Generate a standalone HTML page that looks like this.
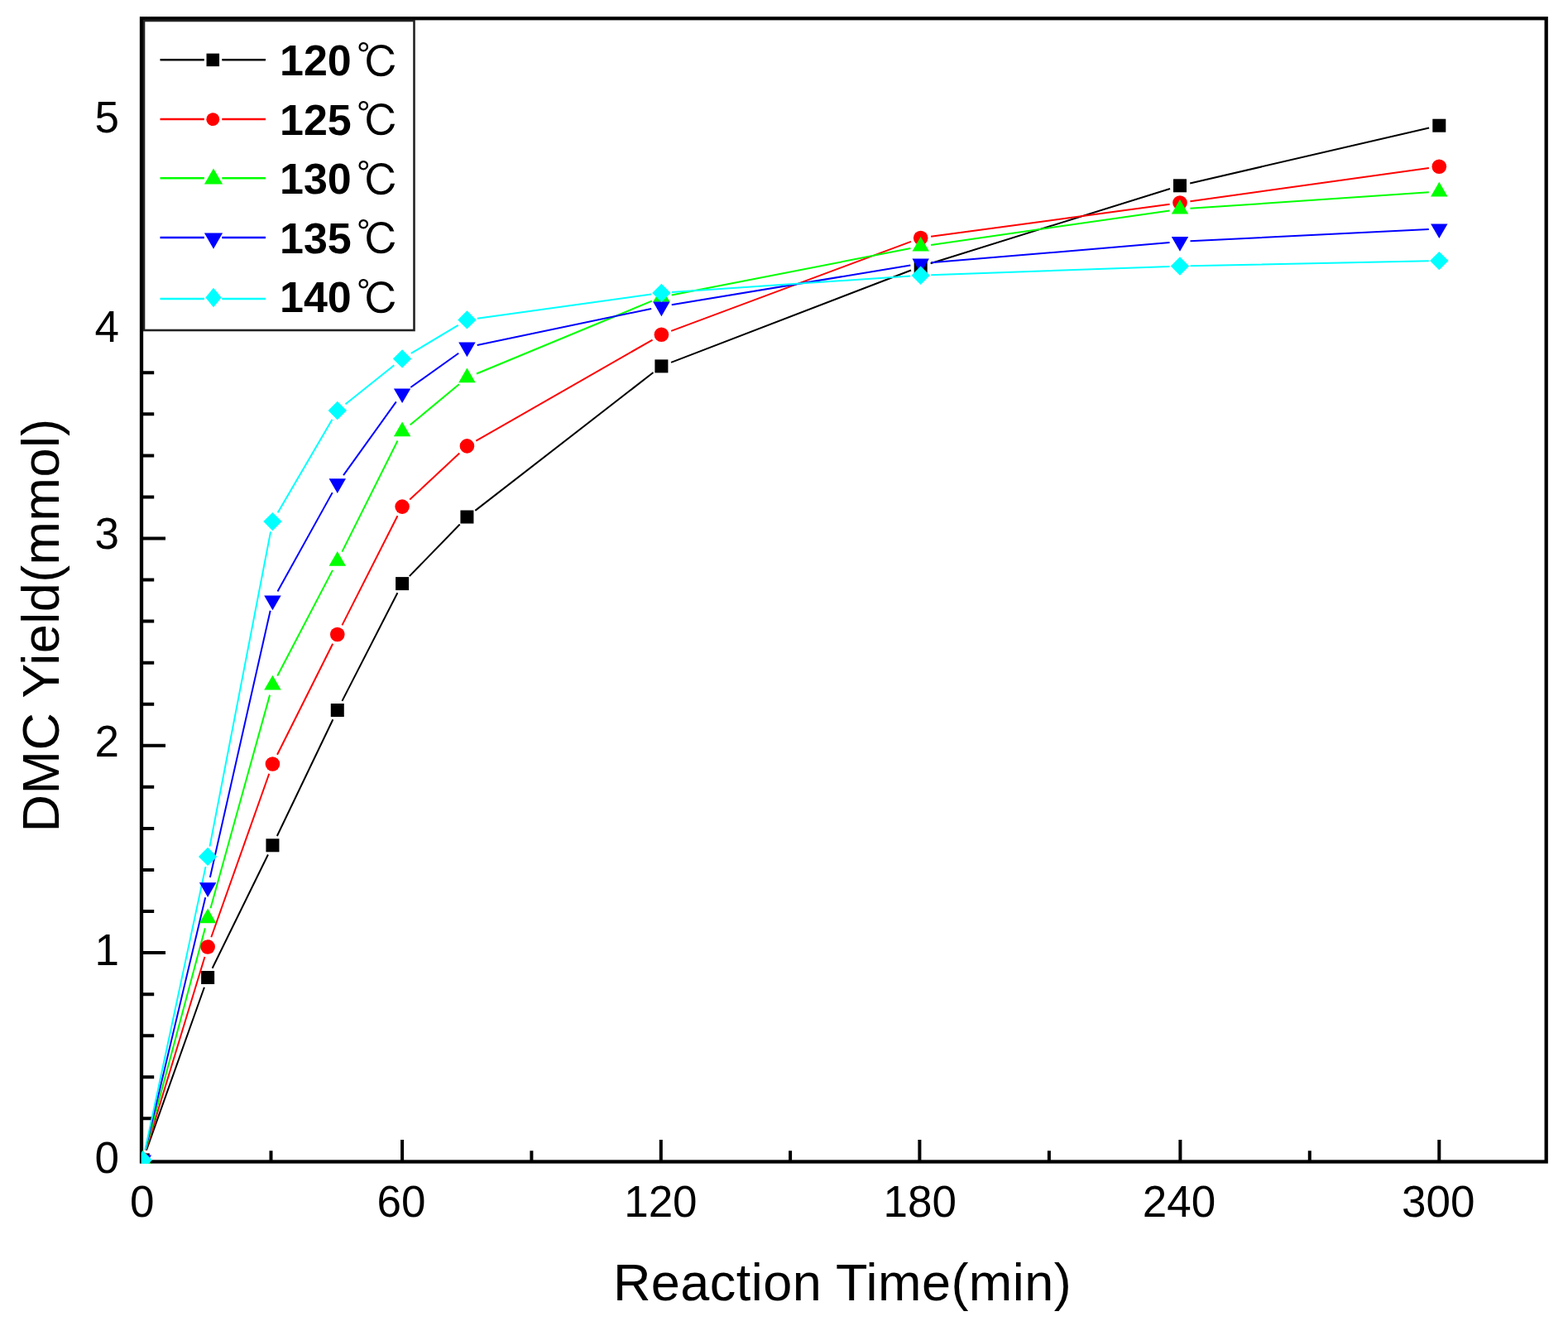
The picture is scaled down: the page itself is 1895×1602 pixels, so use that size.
<!DOCTYPE html>
<html><head><meta charset="utf-8"><title>DMC Yield vs Reaction Time</title>
<style>
html,body{margin:0;padding:0;background:#fff;}
body{width:1895px;height:1602px;overflow:hidden;}
svg{display:block;}
text{font-family:"Liberation Sans",Arial,sans-serif;fill:#000;}
.tl text{font-size:53px;}
.ttl{font-size:63px;letter-spacing:0.45px;}
.lg{font-size:52px;font-weight:bold;}
.deg{font-family:"Liberation Sans","IPAGothic",sans-serif;font-weight:normal;font-size:52px;}
</style></head><body>
<svg width="1895" height="1602" viewBox="0 0 1895 1602">
<defs><clipPath id="pc"><rect x="170.8" y="0" width="1700" height="1406"/></clipPath></defs>
<rect width="1895" height="1602" fill="#fff"/>
<g>
<rect x="171.0" y="22.25" width="1697.7" height="1381.25" fill="none" stroke="#000" stroke-width="4.3"/><path d="M327.50 1403.5V1390.3M486.10 1403.5V1377M642.40 1403.5V1390.3M798.80 1403.5V1377M955.10 1403.5V1390.3M1111.40 1403.5V1377M1267.90 1403.5V1390.3M1426.40 1403.5V1377M1582.80 1403.5V1390.3M1739.30 1403.5V1377M171.0 1351.34H186.2M171.0 1301.28H186.2M171.0 1251.22H186.2M171.0 1201.16H186.2M171.0 1151.10H200M171.0 1101.04H186.2M171.0 1050.98H186.2M171.0 1000.92H186.2M171.0 950.86H186.2M171.0 900.80H200M171.0 850.74H186.2M171.0 800.68H186.2M171.0 750.62H186.2M171.0 700.56H186.2M171.0 650.50H200M171.0 600.44H186.2M171.0 550.38H186.2M171.0 500.32H186.2M171.0 450.26H186.2" stroke="#000" stroke-width="4" fill="none"/>
<g clip-path="url(#pc)"><path d="M176.99 1389.62L246.94 1192.78M256.63 1169.78L323.95 1032.52M334.86 1010.03L402.37 869.27M413.48 846.87L480.40 716.23M494.81 696.14L555.72 633.46M574.31 616.84L789.52 450.06M811.07 437.92L1101.04 326.48M1124.64 318.28L1414.07 228.02M1438.19 221.48L1727.13 154.52" stroke="#000000" stroke-width="2" fill="none"/><path d="M176.44 1389.44L247.49 1155.96M255.30 1132.22L325.28 934.78M335.05 911.82L402.18 777.68M413.43 755.35L480.45 623.25M495.23 603.57L555.29 547.43M575.27 532.69L788.56 410.51M811.12 399.93L1100.99 291.87M1125.09 285.82L1413.62 246.68M1438.39 243.27L1726.93 202.93" stroke="#ff0000" stroke-width="2" fill="none"/><path d="M176.04 1389.33L247.89 1121.37M254.47 1097.26L326.10 839.64M335.24 816.52L401.98 688.88M413.37 666.62L480.51 532.48M495.72 513.32L554.81 464.28M575.97 451.51L787.86 363.69M811.67 356.50L1100.44 300.10M1125.08 295.92L1413.63 254.48M1438.48 251.86L1726.84 232.34" stroke="#00ff00" stroke-width="2" fill="none"/><path d="M175.69 1389.24L248.23 1084.26M253.88 1059.91L326.70 737.69M335.51 714.57L401.72 595.13M415.08 574.05L478.80 485.45M496.28 468.05L554.25 426.75M576.66 416.94L787.17 372.96M811.74 368.35L1100.37 320.45M1125.16 317.35L1413.55 293.05M1438.49 291.37L1726.83 276.93" stroke="#0000ff" stroke-width="2" fill="none"/><path d="M175.41 1389.18L248.51 1047.12M253.50 1022.63L327.08 642.37M335.76 619.31L401.47 506.79M417.54 488.20L476.34 441.20M496.82 426.97L553.71 392.83M576.81 384.69L787.02 355.61M811.88 353.06L1100.23 333.54M1125.20 332.25L1413.52 321.95M1438.51 321.24L1726.81 315.36" stroke="#00ffff" stroke-width="2" fill="none"/><rect x="164.80" y="1393.40" width="16.00" height="16.00" fill="#000000"/><rect x="243.13" y="1173.00" width="16.00" height="16.00" fill="#000000"/><rect x="321.45" y="1013.30" width="16.00" height="16.00" fill="#000000"/><rect x="399.78" y="850.00" width="16.00" height="16.00" fill="#000000"/><rect x="478.10" y="697.10" width="16.00" height="16.00" fill="#000000"/><rect x="556.43" y="616.50" width="16.00" height="16.00" fill="#000000"/><rect x="791.40" y="434.40" width="16.00" height="16.00" fill="#000000"/><rect x="1104.71" y="314.00" width="16.00" height="16.00" fill="#000000"/><rect x="1418.01" y="216.30" width="16.00" height="16.00" fill="#000000"/><rect x="1731.31" y="143.70" width="16.00" height="16.00" fill="#000000"/><circle cx="172.80" cy="1401.40" r="8.80" fill="#ff0000"/><circle cx="251.13" cy="1144.00" r="8.80" fill="#ff0000"/><circle cx="329.45" cy="923.00" r="8.80" fill="#ff0000"/><circle cx="407.78" cy="766.50" r="8.80" fill="#ff0000"/><circle cx="486.10" cy="612.10" r="8.80" fill="#ff0000"/><circle cx="564.43" cy="538.90" r="8.80" fill="#ff0000"/><circle cx="799.40" cy="404.30" r="8.80" fill="#ff0000"/><circle cx="1112.71" cy="287.50" r="8.80" fill="#ff0000"/><circle cx="1426.01" cy="245.00" r="8.80" fill="#ff0000"/><circle cx="1739.31" cy="201.20" r="8.80" fill="#ff0000"/><polygon points="172.80,1389.60 183.02,1407.30 162.58,1407.30" fill="#00ff00"/><polygon points="251.13,1097.50 261.34,1115.20 240.91,1115.20" fill="#00ff00"/><polygon points="329.45,815.80 339.67,833.50 319.23,833.50" fill="#00ff00"/><polygon points="407.78,666.00 418.00,683.70 397.56,683.70" fill="#00ff00"/><polygon points="486.10,509.50 496.32,527.20 475.88,527.20" fill="#00ff00"/><polygon points="564.43,444.50 574.65,462.20 554.21,462.20" fill="#00ff00"/><polygon points="799.40,347.10 809.62,364.80 789.18,364.80" fill="#00ff00"/><polygon points="1112.71,285.90 1122.93,303.60 1102.49,303.60" fill="#00ff00"/><polygon points="1426.01,240.90 1436.23,258.60 1415.79,258.60" fill="#00ff00"/><polygon points="1739.31,219.70 1749.53,237.40 1729.09,237.40" fill="#00ff00"/><polygon points="162.58,1395.50 183.02,1395.50 172.80,1413.20" fill="#0000ff"/><polygon points="240.91,1066.20 261.34,1066.20 251.13,1083.90" fill="#0000ff"/><polygon points="319.23,719.60 339.67,719.60 329.45,737.30" fill="#0000ff"/><polygon points="397.56,578.30 418.00,578.30 407.78,596.00" fill="#0000ff"/><polygon points="475.88,469.40 496.32,469.40 486.10,487.10" fill="#0000ff"/><polygon points="554.21,413.60 574.65,413.60 564.43,431.30" fill="#0000ff"/><polygon points="789.18,364.50 809.62,364.50 799.40,382.20" fill="#0000ff"/><polygon points="1102.49,312.50 1122.93,312.50 1112.71,330.20" fill="#0000ff"/><polygon points="1415.79,286.10 1436.23,286.10 1426.01,303.80" fill="#0000ff"/><polygon points="1729.09,270.40 1749.53,270.40 1739.31,288.10" fill="#0000ff"/><polygon points="172.80,1390.20 184.00,1401.40 172.80,1412.60 161.60,1401.40" fill="#00ffff"/><polygon points="251.13,1023.70 262.33,1034.90 251.13,1046.10 239.93,1034.90" fill="#00ffff"/><polygon points="329.45,618.90 340.65,630.10 329.45,641.30 318.25,630.10" fill="#00ffff"/><polygon points="407.78,484.80 418.98,496.00 407.78,507.20 396.58,496.00" fill="#00ffff"/><polygon points="486.10,422.20 497.30,433.40 486.10,444.60 474.90,433.40" fill="#00ffff"/><polygon points="564.43,375.20 575.63,386.40 564.43,397.60 553.23,386.40" fill="#00ffff"/><polygon points="799.40,342.70 810.60,353.90 799.40,365.10 788.20,353.90" fill="#00ffff"/><polygon points="1112.71,321.50 1123.91,332.70 1112.71,343.90 1101.51,332.70" fill="#00ffff"/><polygon points="1426.01,310.30 1437.21,321.50 1426.01,332.70 1414.81,321.50" fill="#00ffff"/><polygon points="1739.31,303.90 1750.51,315.10 1739.31,326.30 1728.11,315.10" fill="#00ffff"/></g>
<rect x="174" y="25" width="326.5" height="374" fill="#fff" stroke="#222" stroke-width="2.6"/><path d="M193.5 72.2H246.8M268.3 72.2H321" stroke="#000000" stroke-width="2.4" fill="none"/><rect x="249.54" y="64.64" width="15.52" height="15.52" fill="#000000"/><text x="338" y="91.4" class="lg">120<tspan class="deg" dx="6" dy="2.5">℃</tspan></text><path d="M193.5 144.0H246.8M268.3 144.0H321" stroke="#ff0000" stroke-width="2.4" fill="none"/><circle cx="257.30" cy="144.20" r="7.92" fill="#ff0000"/><text x="338" y="162.9" class="lg">125<tspan class="deg" dx="6" dy="2.5">℃</tspan></text><path d="M193.5 215.3H246.8M268.3 215.3H321" stroke="#00ff00" stroke-width="2.4" fill="none"/><polygon points="258.00,203.40 269.09,222.60 246.91,222.60" fill="#00ff00"/><text x="338" y="234.4" class="lg">130<tspan class="deg" dx="6" dy="2.5">℃</tspan></text><path d="M193.5 287.0H246.8M268.3 287.0H321" stroke="#0000ff" stroke-width="2.4" fill="none"/><polygon points="246.91,281.50 269.09,281.50 258.00,300.70" fill="#0000ff"/><text x="338" y="305.9" class="lg">135<tspan class="deg" dx="6" dy="2.5">℃</tspan></text><path d="M193.5 361.0H246.8M268.3 361.0H321" stroke="#00ffff" stroke-width="2.4" fill="none"/><polygon points="258.00,347.80 267.70,359.50 258.00,371.20 248.30,359.50" fill="#00ffff"/><text x="338" y="377.4" class="lg">140<tspan class="deg" dx="6" dy="2.5">℃</tspan></text>
<g class="tl"><text x="171.80" y="1469.5" text-anchor="middle">0</text><text x="485.10" y="1469.5" text-anchor="middle">60</text><text x="798.40" y="1469.5" text-anchor="middle">120</text><text x="1111.71" y="1469.5" text-anchor="middle">180</text><text x="1425.01" y="1469.5" text-anchor="middle">240</text><text x="1738.31" y="1469.5" text-anchor="middle">300</text><text x="144" y="1416.50" text-anchor="end">0</text><text x="144" y="1165.80" text-anchor="end">1</text><text x="144" y="913.50" text-anchor="end">2</text><text x="144" y="663.10" text-anchor="end">3</text><text x="144" y="412.80" text-anchor="end">4</text><text x="144" y="160.10" text-anchor="end">5</text></g>
<text x="740.9" y="1571.3" class="ttl">Reaction Time(min)</text>
<text transform="translate(70.8 1005.5) rotate(-90)" class="ttl">DMC Yield(mmol)</text>
</g>
</svg>
</body></html>
